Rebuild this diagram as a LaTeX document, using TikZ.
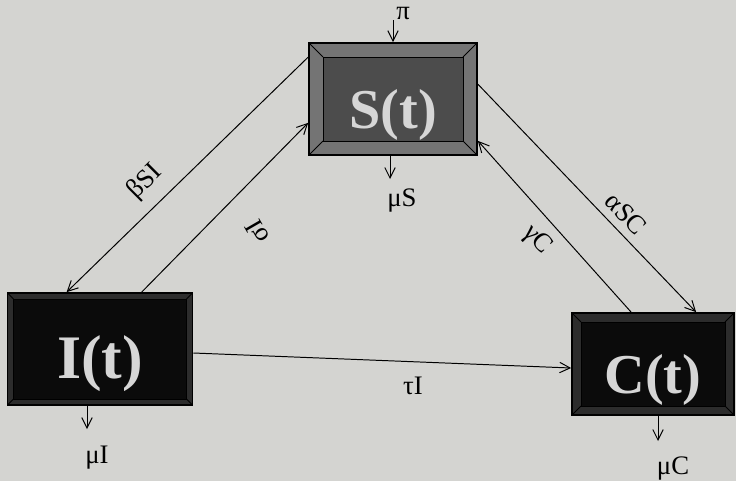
\documentclass[tikz,border=0pt]{standalone}
\usepackage{fontspec}
\setmainfont{Liberation Serif}
\usetikzlibrary{arrows.meta}
\definecolor{paper}{HTML}{D4D4D1}
\definecolor{boxgray}{HTML}{4C4C4C}
\definecolor{bevelgray}{HTML}{747474}
\definecolor{boxblack}{HTML}{0B0B0B}
\definecolor{bevelblack}{HTML}{2C2C2C}
\definecolor{chalk}{HTML}{D6D6D6}
\newcommand{\sunk}[1]{\raisebox{-21pt}{#1}}

\begin{document}
\begin{tikzpicture}[x=0.025cm, y=-0.025cm,
  comp/.style n args={3}{draw=black, line width=1.2pt, fill=#1, text=chalk,
    font=\fontsize{40}{44}\selectfont\bfseries, inner sep=0pt,
    text height=0pt, text depth=0pt,
    path picture={
      \fill[#2] (path picture bounding box.north west) rectangle (path picture bounding box.south east);
      \filldraw[fill=#1, draw=black, line width=0.6pt]
        ([shift={(#3,#3)}]path picture bounding box.north west) rectangle
        ([shift={(-#3,-#3)}]path picture bounding box.south east);
      \draw[line width=0.6pt]
        (path picture bounding box.north west) -- ([shift={(#3,#3)}]path picture bounding box.north west)
        (path picture bounding box.north east) -- ([shift={(-#3,#3)}]path picture bounding box.north east)
        (path picture bounding box.south west) -- ([shift={(#3,-#3)}]path picture bounding box.south west)
        (path picture bounding box.south east) -- ([shift={(-#3,-#3)}]path picture bounding box.south east);
    }},
  flow/.style={-{Straight Barb[length=2.6mm, width=2.6mm]}, line width=0.7pt},
  rate/.style={font=\fontsize{19}{21}\selectfont, inner sep=1pt}
]
\path[use as bounding box, fill=paper] (0,0) rectangle (736,481);

% compartments
\node[comp={boxgray}{bevelgray}{14}, minimum width=4.2cm, minimum height=2.8cm] (S) at (393,99) {\sunk{S(t)}};
\node[comp={boxblack}{bevelblack}{6}, minimum width=4.625cm, minimum height=2.8cm,
  font=\fontsize{44}{48}\selectfont\bfseries] (I) at (100,349) {\sunk{I(t)}};
\node[comp={boxblack}{bevelblack}{9}, minimum width=4.05cm, minimum height=2.55cm] (C) at (653,364) {\sunk{C(t)}};

% recruitment and deaths
\coordinate (piin) at (393,20);
\coordinate (muSout) at (390,179);
\coordinate (muIout) at (87,429);
\coordinate (muCout) at (658,441);
\node[rate] (pi) at (403,13) {π};
\node[rate] (muS) at (402,201) {μS};
\node[rate] (muI) at (97,458) {μI};
\node[rate] (muC) at (673,469) {μC};
\draw[flow] (piin) -- (S.north);
\draw[flow] (S.south -| muSout) -- (muSout);
\draw[flow] (I.south -| muIout) -- (muIout);
\draw[flow] (C.south -| muCout) -- (muCout);

% transfers
\draw[flow] ([shift={(0,15)}]S.north west) -- ([shift={(60,0)}]I.north west);
\draw[flow] ([shift={(135,0)}]I.north west) -- ([shift={(0,-33)}]S.south west);
\draw[flow] ([shift={(0,42)}]S.north east) -- ([shift={(125,0)}]C.north west);
\draw[flow] ([shift={(60,0)}]C.north west) -- ([shift={(0,-15)}]S.south east);
\draw[flow] ([shift={(0,4)}]I.east) -- ([shift={(0,4)}]C.west);
\node[rate, rotate=45] (beta) at (145,182) {βSI};
\node[rate, rotate=120] (sigma) at (257,232) {σI};
\node[rate, rotate=-47] (alpha) at (626,214) {αSC};
\node[rate, rotate=-48] (gamma) at (537,240) {γC};
\node[rate] (tau) at (413,386) {τI};
\end{tikzpicture}
\end{document}
